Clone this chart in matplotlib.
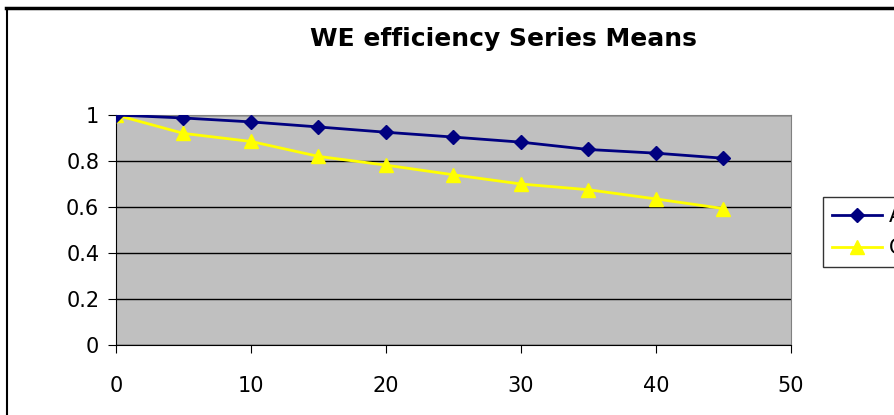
import matplotlib.pyplot as plt
from matplotlib.lines import Line2D

# series means sampled every 5 steps
steps = [0, 5, 10, 15, 20, 25, 30, 35, 40, 45]
series_a = [1.0, 0.987, 0.97, 0.948, 0.925, 0.904, 0.882, 0.85, 0.834, 0.812]
series_c = [1.0, 0.92, 0.885, 0.82, 0.782, 0.74, 0.70, 0.675, 0.635, 0.593]
labels = ["Adaptive", "Constant"]
xticks = [0, 10, 20, 30, 40, 50]
yticks = [0, 0.2, 0.4, 0.6, 0.8, 1]
ytick_labels = ["0", "0.2", "0.4", "0.6", "0.8", "1"]

fig = plt.figure(figsize=(8.95, 4.15), dpi=100)
ax = fig.add_axes([116 / 895, 1 - 345 / 415, 675 / 895, 230 / 415])
ax.set_facecolor("#C0C0C0")

ax.plot(steps, series_a, color="#000080", lw=2, marker="D", ms=7.5,
        label=labels[0], zorder=4)
ax.plot(steps, series_c, color="#FFFF00", lw=2, marker="^", ms=10,
        label=labels[1], zorder=3)

ax.set_xlim(0, 50)
ax.set_ylim(0, 1)
ax.set_xticks(xticks)
ax.set_yticks(yticks)
ax.set_yticklabels(ytick_labels)
ax.yaxis.grid(True, color="black", lw=1)
ax.set_axisbelow(True)

for side in ["top", "right"]:
    ax.spines[side].set_color("#808080")
ax.spines["left"].set_color("black")
ax.spines["bottom"].set_color("black")
ax.tick_params(axis="x", length=6, pad=16, labelsize=15, direction="out")
ax.tick_params(axis="y", length=6, pad=6, labelsize=15, direction="out")

fig.text(0.562, 0.905, "WE efficiency Series Means", ha="center", va="center",
         fontsize=18, fontweight="bold")

# legend sits at the right edge, its labels run off the figure
leg = fig.legend(loc="upper left", bbox_to_anchor=(823 / 895, 1 - 197 / 415),
                 fontsize=15, frameon=True, fancybox=False, borderpad=0.45,
                 handlelength=2.4, handletextpad=0.3, labelspacing=0.55,
                 borderaxespad=0)
leg.get_frame().set_edgecolor("black")
leg.get_frame().set_linewidth(1)

# outer frame lines along the top and left edges
fig.add_artist(Line2D([6 / 895, 1], [1 - 8 / 415, 1 - 8 / 415],
                      color="black", lw=2.5, transform=fig.transFigure))
fig.add_artist(Line2D([7 / 895, 7 / 895], [0, 1 - 9 / 415],
                      color="black", lw=1.5, transform=fig.transFigure))

fig.savefig("out.png", dpi=100)
